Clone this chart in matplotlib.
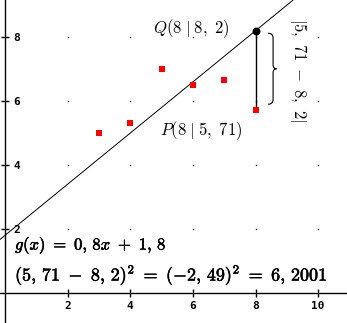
import matplotlib
matplotlib.use("Agg")
import matplotlib.pyplot as plt
import matplotlib.patheffects as pe
from matplotlib.path import Path
from matplotlib.patches import PathPatch
import numpy as np

plt.rcParams['mathtext.fontset'] = 'cm'

# data
xs = [3, 4, 5, 6, 7, 8]
ys = [5.0, 5.3, 7.0, 6.5, 6.65, 5.71]
slope, intercept = 0.8, 1.8
px, py = 8, 5.71
qx, qy = 8, slope * 8 + intercept
xticks = [2, 4, 6, 8, 10]
yticks = [2, 4, 6, 8]
label_g = r"$g(x)\ =\ 0,\,8x\ +\ 1,\,8$"
label_sq = r"$(5,\,71\ -\ 8,\,2)^2\ =\ (-2,\,49)^2\ =\ 6,\,2001$"
label_q = r"$Q(8\;|\;8,\ 2)$"
label_p = r"$P(8\;|\;5,\ 71)$"
label_d = r"$|5,\ 71\ -\ 8,\ 2|$"

fig = plt.figure(figsize=(3.47, 3.23), dpi=100)
ax = fig.add_axes([0, 0, 1, 1])
ax.set_xlim(-0.16, 10.92)
ax.set_ylim(-0.94, 9.16)

for s in ['top', 'right']:
    ax.spines[s].set_visible(False)
ax.spines['left'].set_position(('data', 0))
ax.spines['bottom'].set_position(('data', 0))
ax.spines['left'].set_linewidth(1.0)
ax.spines['bottom'].set_linewidth(1.0)
ax.set_xticks(xticks)
ax.set_yticks(yticks)
ax.set_xticklabels([str(v) for v in xticks])
ax.set_yticklabels([str(v) for v in yticks])
ax.tick_params(direction='inout', length=6, width=1, labelsize=8)
ax.tick_params(axis='x', pad=3)
ax.tick_params(axis='y', pad=-9)
for lab in ax.get_xticklabels() + ax.get_yticklabels():
    lab.set_fontfamily('DejaVu Sans Mono')
    lab.set_fontweight('bold')
for lab in ax.get_yticklabels():
    lab.set_horizontalalignment('left')

# grid dots
gx, gy = np.meshgrid(xticks, yticks)
ax.plot(gx.ravel(), gy.ravel(), ls='none', marker='s', ms=1.0, mew=0, color='black', zorder=2)

# regression line
xl = np.array([-0.16, 10.92])
ax.plot(xl, slope * xl + intercept, color='black', lw=0.7, zorder=3)

# points
ax.scatter(xs, ys, marker='s', s=16, c='#ff0000', linewidths=0, zorder=4)

# segment and Q
ax.plot([px, qx], [py, qy], color='black', lw=1.0, zorder=3)
ax.scatter([qx], [qy], s=22, c='black', zorder=5)

# brace
bx0, bx1, bx2 = qx + 0.4, qx + 0.56, qx + 0.67
yt, yb = qy - 0.08, py + 0.19
ym = (yt + yb) / 2
verts = [(bx0, yt), (bx1, yt), (bx1, yt - 0.15),
         (bx1, ym + 0.12),
         (bx1, ym), (bx2, ym),
         (bx1, ym), (bx1, ym - 0.12),
         (bx1, yb + 0.15),
         (bx1, yb), (bx0, yb)]
codes = [Path.MOVETO, Path.CURVE3, Path.CURVE3,
         Path.LINETO,
         Path.CURVE3, Path.CURVE3,
         Path.CURVE3, Path.CURVE3,
         Path.LINETO,
         Path.CURVE3, Path.CURVE3]
ax.add_patch(PathPatch(Path(verts, codes), fill=False, lw=0.8, color='black'))

bold = [pe.withStroke(linewidth=0.4, foreground='black')]
ax.text(4.73, 8.28, label_q, fontsize=12, ha='left', va='center')
ax.text(4.95, 5.09, label_p, fontsize=12, ha='left', va='center')
ax.text(9.36, 6.97, label_d, fontsize=12, ha='center', va='center', rotation=-90)
ax.text(0.32, 1.5, label_g, fontsize=12, ha='left', va='center', path_effects=bold)
ax.text(0.32, 0.55, label_sq, fontsize=13, ha='left', va='center', path_effects=bold)

fig.savefig('out.png', dpi=100)
